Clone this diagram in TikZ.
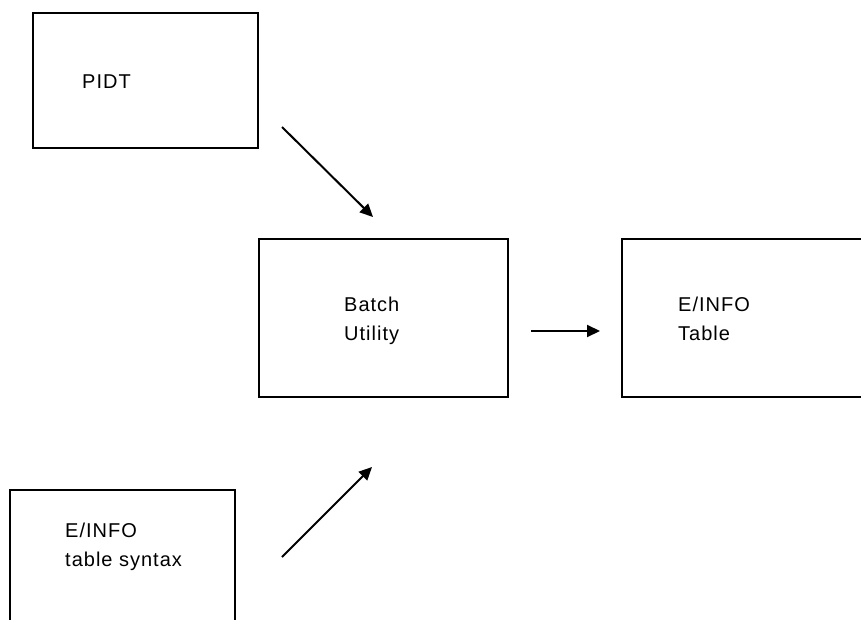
\documentclass[tikz,border=0pt]{standalone}
\usepackage{fontspec}
\setmainfont{Liberation Sans}[LetterSpace=5]
\usetikzlibrary{arrows.meta}
\begin{document}
\begin{tikzpicture}[x=1pt,y=-1pt,
  box/.style={draw, line width=2pt, inner sep=0pt, anchor=north west},
  lbl/.style={anchor=base west, inner sep=0pt, font=\fontsize{20}{29}\selectfont},
  arr/.style={line width=2pt, -{Triangle[length=13pt,width=12pt]}}]
\useasboundingbox (0,0) rectangle (861,620);
\clip (0,0) rectangle (861,620);
% boxes
\node[box, minimum width=225pt, minimum height=135pt] (pidt) at (32,12) {};
\node[box, minimum width=249pt, minimum height=158pt] (batch) at (258,238) {};
\node[box, minimum width=260pt, minimum height=158pt] (einfo) at (621,238) {};
\node[box, minimum width=225pt, minimum height=160pt] (syntax) at (9,489) {};
% labels
\node[lbl] (pidtA) at (82,89) {PIDT};
\node[lbl] (batchA) at (344,311) {Batch};
\node[lbl] (batchB) at (344,340) {Utility};
\node[lbl] (einfoA) at (678,311) {E/INFO};
\node[lbl] (einfoB) at (678,340) {Table};
\node[lbl] (syntaxA) at (65,537) {E/INFO};
\node[lbl] (syntaxB) at (65,566) {table syntax};
% arrows
\coordinate (a1s) at (282,127);
\coordinate (a1e) at (373,217);
\coordinate (a2s) at (531,331);
\coordinate (a2e) at (600,331);
\coordinate (a3s) at (282,557);
\coordinate (a3e) at (372,467);
\draw[arr] (a1s) -- (a1e);
\draw[arr] (a2s) -- (a2e);
\draw[arr] (a3s) -- (a3e);
\end{tikzpicture}
\end{document}
